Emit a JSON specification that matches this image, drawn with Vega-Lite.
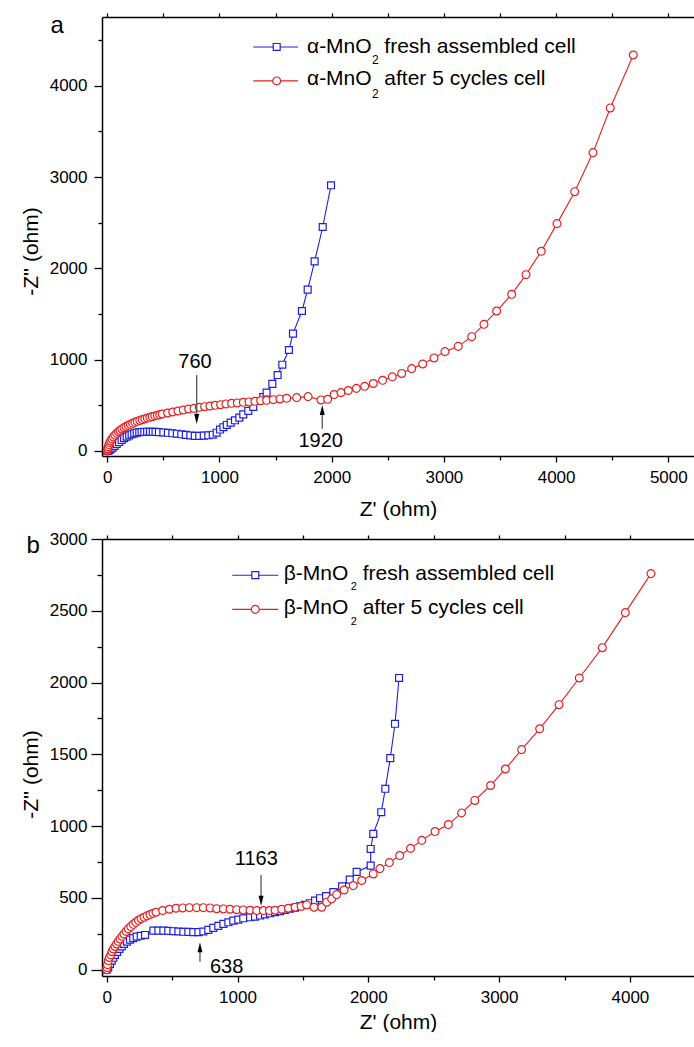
{
  "$schema": "https://vega.github.io/schema/vega-lite/v6.json",
  "padding": {"left": 20, "top": 12, "right": 0, "bottom": 0},
  "spacing": 11,
  "config": {
    "view": {"stroke": null},
    "font": "Liberation Sans",
    "axis": {"labelFont": "Liberation Sans", "titleFont": "Liberation Sans", "labelColor": "#000", "titleColor": "#000", "domainColor": "#000", "tickColor": "#000", "grid": false, "titleFontWeight": "normal", "labelFontSize": 17, "titleFontSize": 21, "domainWidth": 1.5, "tickWidth": 1.3, "labelOverlap": false, "labelFlush": false}
  },
  "datasets": {
    "a": [
      {"z":0,"nz":0,"s":"fresh"},{"z":8,"nz":4,"s":"fresh"},{"z":15,"nz":10,"s":"fresh"},{"z":25,"nz":18,"s":"fresh"},{"z":36,"nz":27,"s":"fresh"},{"z":48,"nz":36,"s":"fresh"},{"z":65,"nz":56,"s":"fresh"},{"z":84,"nz":77,"s":"fresh"},{"z":105,"nz":98,"s":"fresh"},{"z":128,"nz":120,"s":"fresh"},{"z":150,"nz":140,"s":"fresh"},{"z":173,"nz":157,"s":"fresh"},{"z":195,"nz":171,"s":"fresh"},{"z":217,"nz":183,"s":"fresh"},{"z":240,"nz":193,"s":"fresh"},{"z":262,"nz":201,"s":"fresh"},{"z":285,"nz":205,"s":"fresh"},{"z":306,"nz":208,"s":"fresh"},{"z":330,"nz":210,"s":"fresh"},{"z":355,"nz":211,"s":"fresh"},{"z":380,"nz":211,"s":"fresh"},{"z":405,"nz":210,"s":"fresh"},{"z":430,"nz":209,"s":"fresh"},{"z":460,"nz":206,"s":"fresh"},{"z":500,"nz":203,"s":"fresh"},{"z":540,"nz":199,"s":"fresh"},{"z":580,"nz":194,"s":"fresh"},{"z":620,"nz":189,"s":"fresh"},{"z":660,"nz":183,"s":"fresh"},{"z":700,"nz":176,"s":"fresh"},{"z":740,"nz":170,"s":"fresh"},{"z":780,"nz":166,"s":"fresh"},{"z":820,"nz":166,"s":"fresh"},{"z":860,"nz":168,"s":"fresh"},{"z":900,"nz":172,"s":"fresh"},{"z":940,"nz":178,"s":"fresh"},{"z":975,"nz":200,"s":"fresh"},{"z":1005,"nz":235,"s":"fresh"},{"z":1035,"nz":260,"s":"fresh"},{"z":1065,"nz":285,"s":"fresh"},{"z":1100,"nz":310,"s":"fresh"},{"z":1138,"nz":336,"s":"fresh"},{"z":1177,"nz":365,"s":"fresh"},{"z":1212,"nz":401,"s":"fresh"},{"z":1257,"nz":438,"s":"fresh"},{"z":1301,"nz":482,"s":"fresh"},{"z":1346,"nz":548,"s":"fresh"},{"z":1390,"nz":590,"s":"fresh"},{"z":1420,"nz":639,"s":"fresh"},{"z":1471,"nz":735,"s":"fresh"},{"z":1518,"nz":832,"s":"fresh"},{"z":1560,"nz":945,"s":"fresh"},{"z":1619,"nz":1106,"s":"fresh"},{"z":1655,"nz":1285,"s":"fresh"},{"z":1735,"nz":1533,"s":"fresh"},{"z":1786,"nz":1767,"s":"fresh"},{"z":1848,"nz":2077,"s":"fresh"},{"z":1920,"nz":2453,"s":"fresh"},{"z":1994,"nz":2910,"s":"fresh"},
      {"z":0,"nz":0,"s":"cycled"},{"z":2,"nz":12,"s":"cycled"},{"z":5,"nz":28,"s":"cycled"},{"z":9,"nz":48,"s":"cycled"},{"z":15,"nz":70,"s":"cycled"},{"z":22,"nz":92,"s":"cycled"},{"z":30,"nz":110,"s":"cycled"},{"z":41,"nz":132,"s":"cycled"},{"z":54,"nz":153,"s":"cycled"},{"z":68,"nz":174,"s":"cycled"},{"z":84,"nz":193,"s":"cycled"},{"z":100,"nz":211,"s":"cycled"},{"z":113,"nz":226,"s":"cycled"},{"z":130,"nz":241,"s":"cycled"},{"z":149,"nz":255,"s":"cycled"},{"z":167,"nz":268,"s":"cycled"},{"z":187,"nz":281,"s":"cycled"},{"z":206,"nz":292,"s":"cycled"},{"z":226,"nz":303,"s":"cycled"},{"z":246,"nz":314,"s":"cycled"},{"z":267,"nz":325,"s":"cycled"},{"z":290,"nz":334,"s":"cycled"},{"z":312,"nz":343,"s":"cycled"},{"z":335,"nz":352,"s":"cycled"},{"z":357,"nz":361,"s":"cycled"},{"z":380,"nz":369,"s":"cycled"},{"z":401,"nz":376,"s":"cycled"},{"z":424,"nz":384,"s":"cycled"},{"z":446,"nz":391,"s":"cycled"},{"z":468,"nz":398,"s":"cycled"},{"z":490,"nz":405,"s":"cycled"},{"z":538,"nz":416,"s":"cycled"},{"z":583,"nz":427,"s":"cycled"},{"z":630,"nz":438,"s":"cycled"},{"z":677,"nz":449,"s":"cycled"},{"z":725,"nz":460,"s":"cycled"},{"z":773,"nz":467,"s":"cycled"},{"z":820,"nz":478,"s":"cycled"},{"z":868,"nz":485,"s":"cycled"},{"z":915,"nz":493,"s":"cycled"},{"z":963,"nz":500,"s":"cycled"},{"z":1010,"nz":507,"s":"cycled"},{"z":1058,"nz":515,"s":"cycled"},{"z":1108,"nz":522,"s":"cycled"},{"z":1159,"nz":526,"s":"cycled"},{"z":1212,"nz":533,"s":"cycled"},{"z":1263,"nz":537,"s":"cycled"},{"z":1316,"nz":544,"s":"cycled"},{"z":1367,"nz":551,"s":"cycled"},{"z":1420,"nz":555,"s":"cycled"},{"z":1480,"nz":562,"s":"cycled"},{"z":1539,"nz":570,"s":"cycled"},{"z":1599,"nz":577,"s":"cycled"},{"z":1688,"nz":584,"s":"cycled"},{"z":1790,"nz":595,"s":"cycled"},{"z":1905,"nz":559,"s":"cycled"},{"z":1964,"nz":566,"s":"cycled"},{"z":2022,"nz":618,"s":"cycled"},{"z":2083,"nz":639,"s":"cycled"},{"z":2148,"nz":662,"s":"cycled"},{"z":2220,"nz":686,"s":"cycled"},{"z":2294,"nz":708,"s":"cycled"},{"z":2371,"nz":739,"s":"cycled"},{"z":2454,"nz":774,"s":"cycled"},{"z":2540,"nz":812,"s":"cycled"},{"z":2624,"nz":849,"s":"cycled"},{"z":2713,"nz":902,"s":"cycled"},{"z":2811,"nz":953,"s":"cycled"},{"z":2912,"nz":1019,"s":"cycled"},{"z":3010,"nz":1088,"s":"cycled"},{"z":3128,"nz":1146,"s":"cycled"},{"z":3248,"nz":1252,"s":"cycled"},{"z":3357,"nz":1387,"s":"cycled"},{"z":3470,"nz":1533,"s":"cycled"},{"z":3604,"nz":1716,"s":"cycled"},{"z":3732,"nz":1931,"s":"cycled"},{"z":3868,"nz":2187,"s":"cycled"},{"z":4008,"nz":2490,"s":"cycled"},{"z":4166,"nz":2840,"s":"cycled"},{"z":4329,"nz":3268,"s":"cycled"},{"z":4483,"nz":3757,"s":"cycled"},{"z":4688,"nz":4337,"s":"cycled"}
    ],
    "b": [
      {"z":0,"nz":0,"s":"fresh"},{"z":6,"nz":10,"s":"fresh"},{"z":12,"nz":17,"s":"fresh"},{"z":25,"nz":40,"s":"fresh"},{"z":38,"nz":63,"s":"fresh"},{"z":50,"nz":83,"s":"fresh"},{"z":63,"nz":103,"s":"fresh"},{"z":80,"nz":124,"s":"fresh"},{"z":97,"nz":144,"s":"fresh"},{"z":115,"nz":162,"s":"fresh"},{"z":132,"nz":179,"s":"fresh"},{"z":155,"nz":195,"s":"fresh"},{"z":178,"nz":209,"s":"fresh"},{"z":203,"nz":220,"s":"fresh"},{"z":229,"nz":230,"s":"fresh"},{"z":260,"nz":236,"s":"fresh"},{"z":293,"nz":242,"s":"fresh"},{"z":357,"nz":272,"s":"fresh"},{"z":395,"nz":272,"s":"fresh"},{"z":433,"nz":272,"s":"fresh"},{"z":471,"nz":270,"s":"fresh"},{"z":510,"nz":268,"s":"fresh"},{"z":548,"nz":266,"s":"fresh"},{"z":586,"nz":264,"s":"fresh"},{"z":624,"nz":263,"s":"fresh"},{"z":662,"nz":262,"s":"fresh"},{"z":701,"nz":262,"s":"fresh"},{"z":739,"nz":266,"s":"fresh"},{"z":777,"nz":277,"s":"fresh"},{"z":815,"nz":291,"s":"fresh"},{"z":853,"nz":305,"s":"fresh"},{"z":892,"nz":319,"s":"fresh"},{"z":930,"nz":330,"s":"fresh"},{"z":968,"nz":342,"s":"fresh"},{"z":1006,"nz":349,"s":"fresh"},{"z":1044,"nz":358,"s":"fresh"},{"z":1096,"nz":365,"s":"fresh"},{"z":1134,"nz":370,"s":"fresh"},{"z":1172,"nz":377,"s":"fresh"},{"z":1210,"nz":385,"s":"fresh"},{"z":1248,"nz":393,"s":"fresh"},{"z":1287,"nz":400,"s":"fresh"},{"z":1325,"nz":407,"s":"fresh"},{"z":1363,"nz":416,"s":"fresh"},{"z":1401,"nz":425,"s":"fresh"},{"z":1440,"nz":432,"s":"fresh"},{"z":1478,"nz":442,"s":"fresh"},{"z":1516,"nz":452,"s":"fresh"},{"z":1554,"nz":463,"s":"fresh"},{"z":1593,"nz":481,"s":"fresh"},{"z":1631,"nz":498,"s":"fresh"},{"z":1677,"nz":512,"s":"fresh"},{"z":1733,"nz":540,"s":"fresh"},{"z":1800,"nz":580,"s":"fresh"},{"z":1858,"nz":627,"s":"fresh"},{"z":1911,"nz":681,"s":"fresh"},{"z":2018,"nz":725,"s":"fresh"},{"z":2018,"nz":841,"s":"fresh"},{"z":2038,"nz":946,"s":"fresh"},{"z":2099,"nz":1097,"s":"fresh"},{"z":2130,"nz":1260,"s":"fresh"},{"z":2168,"nz":1474,"s":"fresh"},{"z":2204,"nz":1713,"s":"fresh"},{"z":2235,"nz":2032,"s":"fresh"},
      {"z":0,"nz":0,"s":"cycled"},{"z":3,"nz":15,"s":"cycled"},{"z":6,"nz":35,"s":"cycled"},{"z":12,"nz":63,"s":"cycled"},{"z":20,"nz":85,"s":"cycled"},{"z":31,"nz":103,"s":"cycled"},{"z":40,"nz":125,"s":"cycled"},{"z":51,"nz":144,"s":"cycled"},{"z":63,"nz":162,"s":"cycled"},{"z":76,"nz":179,"s":"cycled"},{"z":88,"nz":197,"s":"cycled"},{"z":102,"nz":214,"s":"cycled"},{"z":117,"nz":232,"s":"cycled"},{"z":132,"nz":249,"s":"cycled"},{"z":148,"nz":267,"s":"cycled"},{"z":165,"nz":284,"s":"cycled"},{"z":184,"nz":300,"s":"cycled"},{"z":203,"nz":316,"s":"cycled"},{"z":222,"nz":330,"s":"cycled"},{"z":242,"nz":344,"s":"cycled"},{"z":263,"nz":355,"s":"cycled"},{"z":285,"nz":365,"s":"cycled"},{"z":308,"nz":375,"s":"cycled"},{"z":331,"nz":384,"s":"cycled"},{"z":354,"nz":392,"s":"cycled"},{"z":377,"nz":400,"s":"cycled"},{"z":428,"nz":412,"s":"cycled"},{"z":479,"nz":421,"s":"cycled"},{"z":530,"nz":428,"s":"cycled"},{"z":581,"nz":430,"s":"cycled"},{"z":632,"nz":432,"s":"cycled"},{"z":688,"nz":432,"s":"cycled"},{"z":739,"nz":432,"s":"cycled"},{"z":790,"nz":430,"s":"cycled"},{"z":841,"nz":425,"s":"cycled"},{"z":892,"nz":423,"s":"cycled"},{"z":943,"nz":421,"s":"cycled"},{"z":994,"nz":418,"s":"cycled"},{"z":1044,"nz":416,"s":"cycled"},{"z":1096,"nz":414,"s":"cycled"},{"z":1147,"nz":412,"s":"cycled"},{"z":1198,"nz":412,"s":"cycled"},{"z":1244,"nz":412,"s":"cycled"},{"z":1287,"nz":414,"s":"cycled"},{"z":1338,"nz":421,"s":"cycled"},{"z":1389,"nz":428,"s":"cycled"},{"z":1440,"nz":435,"s":"cycled"},{"z":1486,"nz":441,"s":"cycled"},{"z":1529,"nz":451,"s":"cycled"},{"z":1585,"nz":435,"s":"cycled"},{"z":1644,"nz":435,"s":"cycled"},{"z":1682,"nz":470,"s":"cycled"},{"z":1720,"nz":493,"s":"cycled"},{"z":1758,"nz":523,"s":"cycled"},{"z":1815,"nz":555,"s":"cycled"},{"z":1885,"nz":586,"s":"cycled"},{"z":1950,"nz":621,"s":"cycled"},{"z":2038,"nz":667,"s":"cycled"},{"z":2089,"nz":704,"s":"cycled"},{"z":2161,"nz":746,"s":"cycled"},{"z":2240,"nz":795,"s":"cycled"},{"z":2323,"nz":845,"s":"cycled"},{"z":2409,"nz":901,"s":"cycled"},{"z":2510,"nz":962,"s":"cycled"},{"z":2612,"nz":1011,"s":"cycled"},{"z":2713,"nz":1092,"s":"cycled"},{"z":2814,"nz":1179,"s":"cycled"},{"z":2935,"nz":1283,"s":"cycled"},{"z":3048,"nz":1398,"s":"cycled"},{"z":3172,"nz":1533,"s":"cycled"},{"z":3310,"nz":1678,"s":"cycled"},{"z":3458,"nz":1846,"s":"cycled"},{"z":3613,"nz":2032,"s":"cycled"},{"z":3789,"nz":2243,"s":"cycled"},{"z":3965,"nz":2487,"s":"cycled"},{"z":4161,"nz":2759,"s":"cycled"}
    ]
  },
  "vconcat": [
    {
      "width": 592, "height": 439,
      "data": {"name": "a"},
      "resolve": {"axis": {"x": "independent", "y": "independent"}},
      "layer": [
        {"mark": {"type": "line", "strokeWidth": 1.1},
         "encoding": {
           "x": {"field": "z", "type": "quantitative", "scale": {"domain": [-47, 5229], "nice": false, "zero": false},
                 "axis": {"orient": "bottom", "values": [0,500,1000,1500,2000,2500,3000,3500,4000,4500,5000], "format": "d", "labelExpr": "datum.value % 1000 === 0 ? datum.label : ''", "tickSize": {"condition": {"test": "datum.value % 1000 === 0", "value": 6}, "value": 4}, "labelPadding": 7, "title": "Z' (ohm)", "titlePadding": 13}},
           "y": {"field": "nz", "type": "quantitative", "scale": {"domain": [-55, 4753], "nice": false, "zero": false},
                 "axis": {"orient": "left", "values": [0,500,1000,1500,2000,2500,3000,3500,4000,4500], "format": "d", "labelExpr": "datum.value % 1000 === 0 ? datum.label : ''", "tickSize": {"condition": {"test": "datum.value % 1000 === 0", "value": 8}, "value": 4}, "labelPadding": 7, "title": "-Z'' (ohm)", "titlePadding": 8, "titleY": 234}},
           "stroke": {"field": "s", "type": "nominal", "scale": {"domain": ["fresh", "cycled"], "range": ["#1f1fe0", "#e41f1f"]}, "legend": null}
         }},
        {"mark": {"type": "point", "fill": "white", "opacity": 1, "strokeWidth": 1.2},
         "encoding": {
           "x": {"field": "z", "type": "quantitative", "axis": {"orient": "top", "values": [0,500,1000,1500,2000,2500,3000,3500,4000,4500,5000], "labels": false, "title": null, "tickSize": 4}},
           "y": {"field": "nz", "type": "quantitative", "axis": null},
           "stroke": {"field": "s", "type": "nominal", "legend": null},
           "shape": {"field": "s", "type": "nominal", "scale": {"domain": ["fresh", "cycled"], "range": ["square", "circle"]}, "legend": null},
           "size": {"field": "s", "type": "nominal", "scale": {"domain": ["fresh", "cycled"], "range": [48, 62]}, "legend": null}
         }},
        {"data": {"values": [{}]}, "mark": {"type": "rule", "color": "#1f1fe0", "strokeWidth": 1.1},
         "encoding": {"x": {"datum": 1301, "type": "quantitative", "axis": null}, "x2": {"datum": 1700}, "y": {"datum": 4425, "type": "quantitative", "axis": null}}},
        {"data": {"values": [{}]}, "mark": {"type": "rule", "color": "#e41f1f", "strokeWidth": 1.1},
         "encoding": {"x": {"datum": 1301, "type": "quantitative", "axis": null}, "x2": {"datum": 1700}, "y": {"datum": 4053, "type": "quantitative", "axis": null}}},
        {"data": {"values": [{}]}, "mark": {"type": "point", "shape": "square", "fill": "white", "stroke": "#1f1fe0", "opacity": 1, "strokeWidth": 1.2, "size": 48},
         "encoding": {"x": {"datum": 1510, "type": "quantitative", "axis": null}, "y": {"datum": 4425, "type": "quantitative", "axis": null}}},
        {"data": {"values": [{}]}, "mark": {"type": "point", "shape": "circle", "fill": "white", "stroke": "#e41f1f", "opacity": 1, "strokeWidth": 1.2, "size": 62},
         "encoding": {"x": {"datum": 1510, "type": "quantitative", "axis": null}, "y": {"datum": 4053, "type": "quantitative", "axis": null}}},
        {"data": {"values": [{}]}, "mark": {"type": "text", "text": "α-MnO", "fontSize": 21, "align": "right", "baseline": "alphabetic", "color": "black"},
         "encoding": {"x": {"datum": 2356, "type": "quantitative", "axis": null}, "y": {"datum": 4362, "type": "quantitative", "axis": null}}},
        {"data": {"values": [{}]}, "mark": {"type": "text", "text": "α-MnO", "fontSize": 21, "align": "right", "baseline": "alphabetic", "color": "black"},
         "encoding": {"x": {"datum": 2356, "type": "quantitative", "axis": null}, "y": {"datum": 4005, "type": "quantitative", "axis": null}}},
        {"data": {"values": [{}]}, "mark": {"type": "text", "text": "2", "fontSize": 12, "align": "center", "baseline": "alphabetic", "color": "black"},
         "encoding": {"x": {"datum": 2390, "type": "quantitative", "axis": null}, "y": {"datum": 4236, "type": "quantitative", "axis": null}}},
        {"data": {"values": [{}]}, "mark": {"type": "text", "text": "2", "fontSize": 12, "align": "center", "baseline": "alphabetic", "color": "black"},
         "encoding": {"x": {"datum": 2390, "type": "quantitative", "axis": null}, "y": {"datum": 3863, "type": "quantitative", "axis": null}}},
        {"data": {"values": [{}]}, "mark": {"type": "text", "text": "fresh assembled cell", "fontSize": 21, "align": "left", "baseline": "alphabetic", "color": "black"},
         "encoding": {"x": {"datum": 2469, "type": "quantitative", "axis": null}, "y": {"datum": 4362, "type": "quantitative", "axis": null}}},
        {"data": {"values": [{}]}, "mark": {"type": "text", "text": "after 5 cycles cell", "fontSize": 21, "align": "left", "baseline": "alphabetic", "color": "black"},
         "encoding": {"x": {"datum": 2469, "type": "quantitative", "axis": null}, "y": {"datum": 4005, "type": "quantitative", "axis": null}}},
        {"data": {"values": [{}]}, "mark": {"type": "text", "text": "a", "fontSize": 24, "align": "center", "baseline": "alphabetic", "color": "black"},
         "encoding": {"x": {"datum": -446, "type": "quantitative", "axis": null}, "y": {"datum": 4582, "type": "quantitative", "axis": null}}},
        {"data": {"values": [{}]}, "mark": {"type": "rule", "color": "#555", "strokeWidth": 1.3},
         "encoding": {"x": {"datum": 797, "type": "quantitative", "axis": null}, "y": {"datum": 832, "type": "quantitative", "axis": null}, "y2": {"datum": 350}}},
        {"data": {"values": [{}]}, "mark": {"type": "point", "shape": "M0,1L-0.5,-1L0.5,-1Z", "filled": true, "color": "black", "opacity": 1, "size": 100},
         "encoding": {"x": {"datum": 797, "type": "quantitative", "axis": null}, "y": {"datum": 350, "type": "quantitative", "axis": null}}},
        {"data": {"values": [{}]}, "mark": {"type": "text", "text": "760", "fontSize": 20, "align": "center", "baseline": "alphabetic", "color": "black"},
         "encoding": {"x": {"datum": 782, "type": "quantitative", "axis": null}, "y": {"datum": 912, "type": "quantitative", "axis": null}}},
        {"data": {"values": [{}]}, "mark": {"type": "rule", "color": "#555", "strokeWidth": 1.3},
         "encoding": {"x": {"datum": 1916, "type": "quantitative", "axis": null}, "y": {"datum": 244, "type": "quantitative", "axis": null}, "y2": {"datum": 449}}},
        {"data": {"values": [{}]}, "mark": {"type": "point", "shape": "M0,-1L-0.5,1L0.5,1Z", "filled": true, "color": "black", "opacity": 1, "size": 100},
         "encoding": {"x": {"datum": 1916, "type": "quantitative", "axis": null}, "y": {"datum": 449, "type": "quantitative", "axis": null}}},
        {"data": {"values": [{}]}, "mark": {"type": "text", "text": "1920", "fontSize": 20, "align": "center", "baseline": "alphabetic", "color": "black"},
         "encoding": {"x": {"datum": 1902, "type": "quantitative", "axis": null}, "y": {"datum": 47, "type": "quantitative", "axis": null}}}
      ]
    },
    {
      "width": 592, "height": 437,
      "data": {"name": "b"},
      "resolve": {"axis": {"x": "independent", "y": "independent"}},
      "layer": [
        {"mark": {"type": "line", "strokeWidth": 1.1},
         "encoding": {
           "x": {"field": "z", "type": "quantitative", "scale": {"domain": [-36, 4490], "nice": false, "zero": false},
                 "axis": {"orient": "bottom", "values": [0,500,1000,1500,2000,2500,3000,3500,4000], "format": "d", "labelExpr": "datum.value % 1000 === 0 ? datum.label : ''", "tickSize": {"condition": {"test": "datum.value % 1000 === 0", "value": 6}, "value": 4}, "labelPadding": 7, "title": "Z' (ohm)", "titlePadding": 6}},
           "y": {"field": "nz", "type": "quantitative", "scale": {"domain": [-44, 3000], "nice": false, "zero": false},
                 "axis": {"orient": "left", "values": [0,250,500,750,1000,1250,1500,1750,2000,2250,2500,2750,3000], "format": "d", "labelExpr": "datum.value % 500 === 0 ? datum.label : ''", "tickSize": {"condition": {"test": "datum.value % 500 === 0", "value": 11}, "value": 5}, "labelPadding": 4, "title": "-Z'' (ohm)", "titlePadding": 8, "titleY": 235}},
           "stroke": {"field": "s", "type": "nominal", "scale": {"domain": ["fresh", "cycled"], "range": ["#1f1fe0", "#e41f1f"]}, "legend": null}
         }},
        {"mark": {"type": "point", "fill": "white", "opacity": 1, "strokeWidth": 1.2},
         "encoding": {
           "x": {"field": "z", "type": "quantitative", "axis": {"orient": "top", "values": [0,500,1000,1500,2000,2500,3000,3500,4000], "labels": false, "title": null, "tickSize": 4}},
           "y": {"field": "nz", "type": "quantitative", "axis": null},
           "stroke": {"field": "s", "type": "nominal", "legend": null},
           "shape": {"field": "s", "type": "nominal", "scale": {"domain": ["fresh", "cycled"], "range": ["square", "circle"]}, "legend": null},
           "size": {"field": "s", "type": "nominal", "scale": {"domain": ["fresh", "cycled"], "range": [48, 62]}, "legend": null}
         }},
        {"data": {"values": [{}]}, "mark": {"type": "rule", "color": "#1f1fe0", "strokeWidth": 1.1},
         "encoding": {"x": {"datum": 960, "type": "quantitative", "axis": null}, "x2": {"datum": 1312}, "y": {"datum": 2748, "type": "quantitative", "axis": null}}},
        {"data": {"values": [{}]}, "mark": {"type": "rule", "color": "#e41f1f", "strokeWidth": 1.1},
         "encoding": {"x": {"datum": 960, "type": "quantitative", "axis": null}, "x2": {"datum": 1312}, "y": {"datum": 2510, "type": "quantitative", "axis": null}}},
        {"data": {"values": [{}]}, "mark": {"type": "point", "shape": "square", "fill": "white", "stroke": "#1f1fe0", "opacity": 1, "strokeWidth": 1.2, "size": 48},
         "encoding": {"x": {"datum": 1136, "type": "quantitative", "axis": null}, "y": {"datum": 2748, "type": "quantitative", "axis": null}}},
        {"data": {"values": [{}]}, "mark": {"type": "point", "shape": "circle", "fill": "white", "stroke": "#e41f1f", "opacity": 1, "strokeWidth": 1.2, "size": 62},
         "encoding": {"x": {"datum": 1136, "type": "quantitative", "axis": null}, "y": {"datum": 2510, "type": "quantitative", "axis": null}}},
        {"data": {"values": [{}]}, "mark": {"type": "text", "text": "β-MnO", "fontSize": 21, "align": "right", "baseline": "alphabetic", "color": "black"},
         "encoding": {"x": {"datum": 1847, "type": "quantitative", "axis": null}, "y": {"datum": 2713, "type": "quantitative", "axis": null}}},
        {"data": {"values": [{}]}, "mark": {"type": "text", "text": "β-MnO", "fontSize": 21, "align": "right", "baseline": "alphabetic", "color": "black"},
         "encoding": {"x": {"datum": 1847, "type": "quantitative", "axis": null}, "y": {"datum": 2476, "type": "quantitative", "axis": null}}},
        {"data": {"values": [{}]}, "mark": {"type": "text", "text": "2", "fontSize": 11, "align": "center", "baseline": "alphabetic", "color": "black"},
         "encoding": {"x": {"datum": 1889, "type": "quantitative", "axis": null}, "y": {"datum": 2643, "type": "quantitative", "axis": null}}},
        {"data": {"values": [{}]}, "mark": {"type": "text", "text": "2", "fontSize": 11, "align": "center", "baseline": "alphabetic", "color": "black"},
         "encoding": {"x": {"datum": 1889, "type": "quantitative", "axis": null}, "y": {"datum": 2399, "type": "quantitative", "axis": null}}},
        {"data": {"values": [{}]}, "mark": {"type": "text", "text": "fresh assembled cell", "fontSize": 21, "align": "left", "baseline": "alphabetic", "color": "black"},
         "encoding": {"x": {"datum": 1957, "type": "quantitative", "axis": null}, "y": {"datum": 2713, "type": "quantitative", "axis": null}}},
        {"data": {"values": [{}]}, "mark": {"type": "text", "text": "after 5 cycles cell", "fontSize": 21, "align": "left", "baseline": "alphabetic", "color": "black"},
         "encoding": {"x": {"datum": 1957, "type": "quantitative", "axis": null}, "y": {"datum": 2476, "type": "quantitative", "axis": null}}},
        {"data": {"values": [{}]}, "mark": {"type": "text", "text": "b", "fontSize": 24, "align": "center", "baseline": "alphabetic", "color": "black"},
         "encoding": {"x": {"datum": -563, "type": "quantitative", "axis": null}, "y": {"datum": 2899, "type": "quantitative", "axis": null}}},
        {"data": {"values": [{}]}, "mark": {"type": "rule", "color": "#555", "strokeWidth": 1.3},
         "encoding": {"x": {"datum": 1180, "type": "quantitative", "axis": null}, "y": {"datum": 660, "type": "quantitative", "axis": null}, "y2": {"datum": 481}}},
        {"data": {"values": [{}]}, "mark": {"type": "point", "shape": "M0,1L-0.5,-1L0.5,-1Z", "filled": true, "color": "black", "opacity": 1, "size": 100},
         "encoding": {"x": {"datum": 1180, "type": "quantitative", "axis": null}, "y": {"datum": 481, "type": "quantitative", "axis": null}}},
        {"data": {"values": [{}]}, "mark": {"type": "text", "text": "1163", "fontSize": 20, "align": "center", "baseline": "alphabetic", "color": "black"},
         "encoding": {"x": {"datum": 1144, "type": "quantitative", "axis": null}, "y": {"datum": 730, "type": "quantitative", "axis": null}}},
        {"data": {"values": [{}]}, "mark": {"type": "rule", "color": "#555", "strokeWidth": 1.3},
         "encoding": {"x": {"datum": 713, "type": "quantitative", "axis": null}, "y": {"datum": 56, "type": "quantitative", "axis": null}, "y2": {"datum": 156}}},
        {"data": {"values": [{}]}, "mark": {"type": "point", "shape": "M0,-1L-0.5,1L0.5,1Z", "filled": true, "color": "black", "opacity": 1, "size": 100},
         "encoding": {"x": {"datum": 713, "type": "quantitative", "axis": null}, "y": {"datum": 156, "type": "quantitative", "axis": null}}},
        {"data": {"values": [{}]}, "mark": {"type": "text", "text": "638", "fontSize": 20, "align": "center", "baseline": "alphabetic", "color": "black"},
         "encoding": {"x": {"datum": 917, "type": "quantitative", "axis": null}, "y": {"datum": -23, "type": "quantitative", "axis": null}}}
      ]
    }
  ]
}
